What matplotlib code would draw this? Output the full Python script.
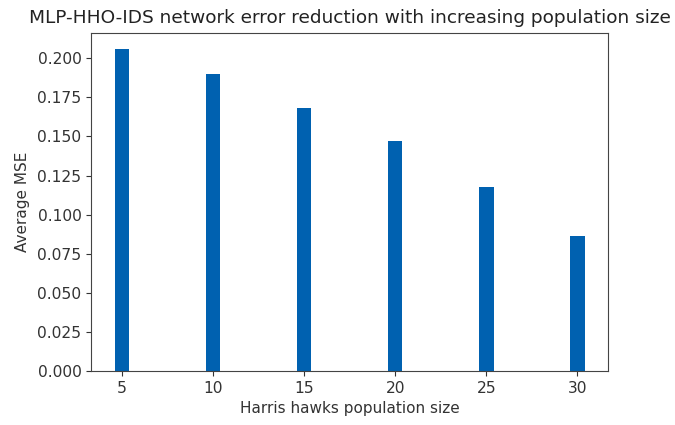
import numpy as np
import matplotlib
matplotlib.use("Agg")
import matplotlib.pyplot as plt

population = [5, 10, 15, 20, 25, 30]
avg_mse = [0.2058, 0.1900, 0.1680, 0.1470, 0.1175, 0.0865]

fig = plt.figure(figsize=(6.75, 4.25), dpi=100)
ax = fig.add_axes([0.135, 0.127, 0.766, 0.795])

ax.bar(population, avg_mse, width=0.8, color='#0061b0')

ax.set_xticks(population)
ax.set_title('MLP-HHO-IDS network error reduction with increasing population size',
             fontsize=13.3, color='#222222', pad=7)
ax.set_xlabel('Harris hawks population size', fontsize=11, color='#333333')
ax.set_ylabel('Average MSE', fontsize=11, color='#333333', labelpad=5)
ax.tick_params(labelsize=11.2, colors='#333333')
for s in ax.spines.values():
    s.set_color('#444444')

fig.savefig('out.png', dpi=100)
